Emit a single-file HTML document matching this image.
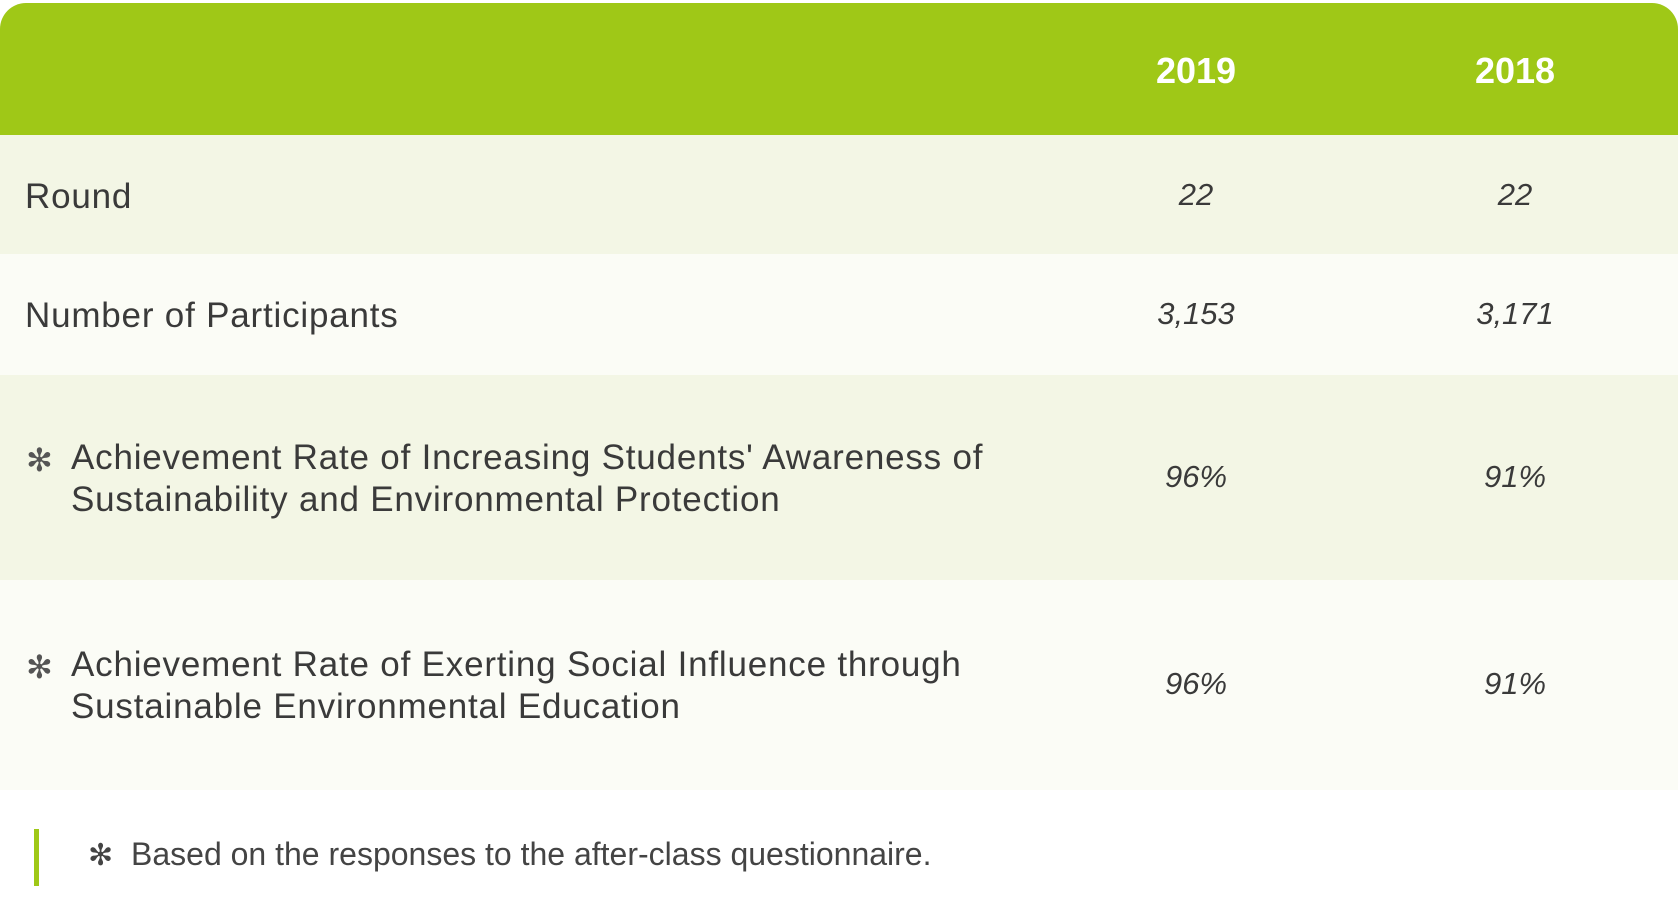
<!DOCTYPE html>
<html><head><meta charset="utf-8"><style>
body{margin:0;width:1678px;height:923px;background:#fff;font-family:"Liberation Sans",sans-serif;color:#3a3a3a;position:relative;overflow:hidden}
.hdr{position:absolute;left:0;top:3px;width:1678px;height:132px;background:#9fc817;border-radius:26px 26px 0 0}
.row{position:absolute;left:0;width:1678px}
.yr{position:absolute;color:#fff;font-weight:bold;font-size:36px;width:200px;text-align:center;top:47px}
.lbl{position:absolute;left:25px;font-size:35px;line-height:42px;letter-spacing:0.8px}
.val{position:absolute;width:200px;text-align:center;font-style:italic;font-size:31px}
.star{position:absolute;left:26px;font-size:32px;color:#555}
</style></head><body>
<div class="hdr">
<div class="yr" style="left:1096px">2019</div>
<div class="yr" style="left:1415px">2018</div>
</div>
<div class="row" style="top:135px;height:119px;background:#f3f6e5">
<div class="lbl" style="top:41px">Round</div>
<div class="val" style="left:1096px;top:42px">22</div>
<div class="val" style="left:1415px;top:42px">22</div>
</div>
<div class="row" style="top:254px;height:121px;background:#fbfcf6">
<div class="lbl" style="top:41px">Number of Participants</div>
<div class="val" style="left:1096px;top:42px">3,153</div>
<div class="val" style="left:1415px;top:42px">3,171</div>
</div>
<div class="row" style="top:375px;height:205px;background:#f3f6e5">
<div class="star" style="top:66px">✻</div>
<div class="lbl" style="top:62px;left:71px">Achievement Rate of Increasing Students' Awareness of<br>Sustainability and Environmental Protection</div>
<div class="val" style="left:1096px;top:84px">96%</div>
<div class="val" style="left:1415px;top:84px">91%</div>
</div>
<div class="row" style="top:580px;height:210px;background:#fbfcf6">
<div class="star" style="top:68px">✻</div>
<div class="lbl" style="top:64px;left:71px">Achievement Rate of Exerting Social Influence through<br>Sustainable Environmental Education</div>
<div class="val" style="left:1096px;top:86px">96%</div>
<div class="val" style="left:1415px;top:86px">91%</div>
</div>
<div style="position:absolute;left:34px;top:829px;width:5px;height:57px;background:#9fc817"></div>
<div style="position:absolute;left:88px;top:838px;font-size:30px;color:#444">✻</div>
<div style="position:absolute;left:131px;top:836px;font-size:32px;color:#444">Based on the responses to the after-class questionnaire.</div>
</body></html>
